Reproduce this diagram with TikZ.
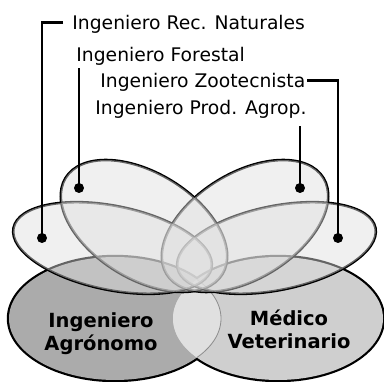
\documentclass[tikz,border=0pt]{standalone}
\usepackage{fontspec}
\setmainfont{DejaVu Sans}
\usetikzlibrary{calc}
\tikzset{
    lbl/.style={inner sep=0pt, font=\fontsize{18.75}{22}\selectfont}, % the small names on top
    career/.style={inner sep=0pt, align=center, font=\bfseries\fontsize{19.5}{23}\selectfont}, % the two big names
    rim/.style={draw=black, line width=4.4pt}, % outline of the two bottom ellipses
    petalrim/.style={draw=black, line width=2.6pt}, % outline of the four petals
    petal/.style={fill=black!13, fill opacity=0.45}, % see-through petal
    dot/.style={circle, fill=black, inner sep=0pt, minimum size=10pt},
    lead/.style={line width=2.5pt}, % line from a name to its petal
}

\begin{document}
\begin{tikzpicture}[x=1pt, y=-1pt]
    \useasboundingbox (0,0) rectangle (384,382);
    % bottom: outlines first, the fills hide the inner half
    \draw[rim] (115,318.5) circle [x radius=106, y radius=61.5];
    \draw[rim] (278,318.5) circle [x radius=105, y radius=61.5];
    \fill[black!33] (115,318.5) circle [x radius=106, y radius=61.5];
    \fill[black!19] (278,318.5) circle [x radius=105, y radius=61.5];
    \begin{scope}
        \clip (115,318.5) circle [x radius=106, y radius=61.5];
        \fill[black!12] (278,318.5) circle [x radius=105, y radius=61.5];
    \end{scope}
    \begin{scope}
        \clip (278,318.5) circle [x radius=105, y radius=61.5];
        \draw[black!45, line width=0.8pt] (115,318.5) circle [x radius=106, y radius=61.5];
    \end{scope}
    % petals
    \foreach \cx/\cy/\a/\b/\r in {112.5/248/101/42/-11.5, 144/226/92/53/-31.5, 245/226/92/53/31.5, 276.5/248/101/42/11.5}
        \draw[petalrim] (\cx,\cy) circle [x radius=\a, y radius=\b, rotate=\r];
    \foreach \cx/\cy/\a/\b/\r in {112.5/248/101/42/-11.5, 144/226/92/53/-31.5, 245/226/92/53/31.5, 276.5/248/101/42/11.5}
        \fill[petal] (\cx,\cy) circle [x radius=\a, y radius=\b, rotate=\r];

    \node[career] (agro) at (101,333.7) {Ingeniero\\Agrónomo};
    \node[career] (vet) at (289,329.5) {Médico\\Veterinario};

    \node[lbl, anchor=base west] (recnat) at (72.2,29.3) {Ingeniero Rec. Naturales};
    \node[lbl, anchor=base west] (forestal) at (76.2,62) {Ingeniero Forestal};
    \node[lbl, anchor=base west] (zoot) at (100.2,88) {Ingeniero Zootecnista};
    \node[lbl, anchor=base west] (prod) at (95.2,115) {Ingeniero Prod. Agrop.};

    \node[dot] (dotA) at (42,238) {};
    \node[dot] (dotB) at (79,188) {};
    \node[dot] (dotC) at (300,188) {};
    \node[dot] (dotD) at (338,238) {};

    \draw[lead] ($(recnat.west)+(-9,-1.6)$) -| (dotA.center);
    \draw[lead] ($(dotB |- forestal.south)+(0,2)$) -- (dotB.center);
    \draw[lead] ($(zoot.east)+(2,-2.4)$) -| (dotD.center);
    \draw[lead] ($(dotC |- prod.south)+(0,7)$) -- (dotC.center);
\end{tikzpicture}
\end{document}
